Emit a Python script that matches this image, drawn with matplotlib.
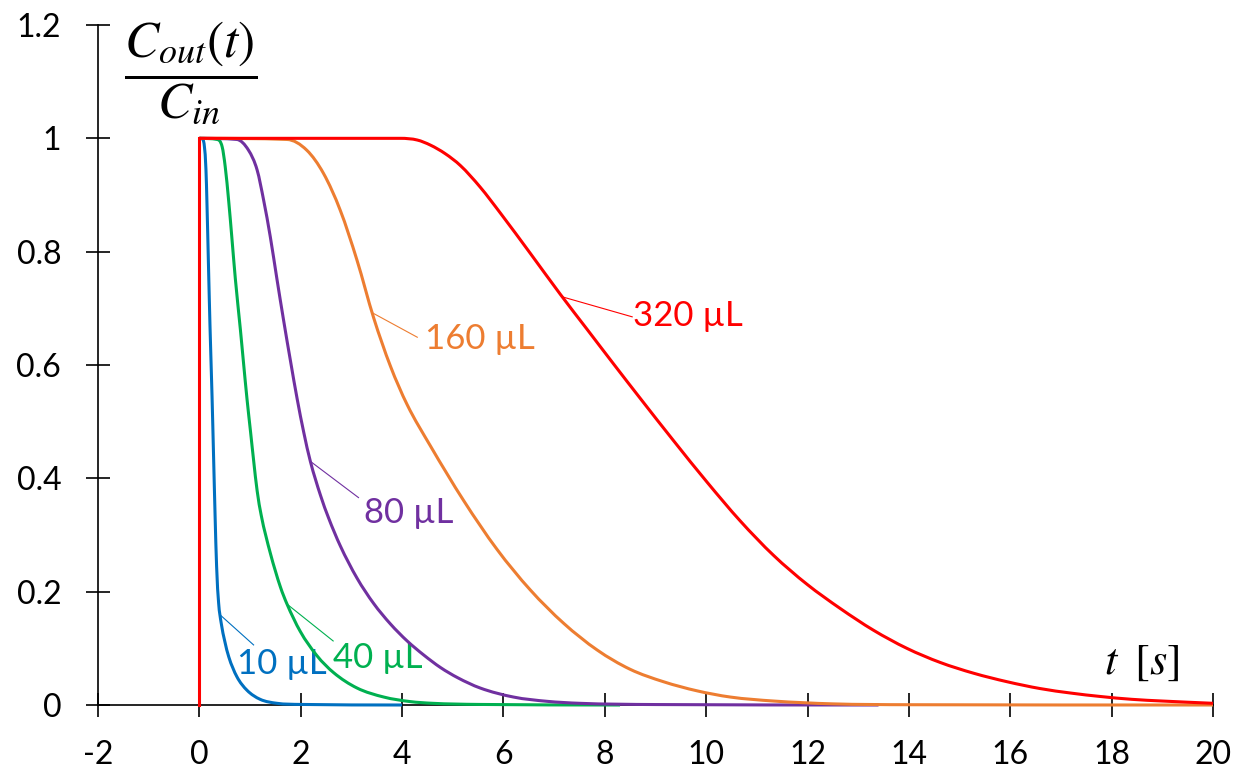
import numpy as np
import matplotlib
matplotlib.use("Agg")
import matplotlib.pyplot as plt
from matplotlib.path import Path
from matplotlib.patches import PathPatch

plt.rcParams['font.family'] = ['Lato', 'DejaVu Sans']
plt.rcParams['mathtext.fontset'] = 'stix'

# Outlet concentration (normalised) vs time for different volumes
t_10 = [0, 0.07, 0.10, 0.13, 0.15, 0.18, 0.21, 0.25, 0.28, 0.31, 0.34, 0.38,
        0.43, 0.50, 0.58, 0.74, 0.94, 1.20, 1.53, 2.0, 4.0]
c_10 = [1, 0.998, 0.985, 0.945, 0.885, 0.775, 0.668, 0.545, 0.440, 0.335, 0.245,
        0.180, 0.145, 0.113, 0.085, 0.050, 0.026, 0.010, 0.003, 0.001, 0]

t_40 = [0, 0.35, 0.45, 0.51, 0.58, 0.64, 0.71, 0.81, 0.87, 0.94, 1.01, 1.07,
        1.14, 1.22, 1.40, 1.60, 1.73, 1.99, 2.32, 2.65, 3.11, 3.64, 4.16, 4.6,
        5.5, 8.3]
c_40 = [1, 0.998, 0.985, 0.950, 0.888, 0.826, 0.752, 0.662, 0.605, 0.540, 0.482,
        0.432, 0.378, 0.335, 0.268, 0.208, 0.178, 0.130, 0.087, 0.057, 0.030,
        0.014, 0.006, 0.003, 0.001, 0]

t_80 = [0, 0.74, 0.97, 1.14, 1.27, 1.40, 1.53, 1.66, 1.80, 1.93, 2.06, 2.19,
        2.39, 2.55, 2.78, 3.11, 3.44, 3.77, 4.10, 4.43, 4.76, 5.1, 5.54, 6.20,
        6.86, 7.5, 9.0, 13.4]
c_80 = [1, 0.998, 0.979, 0.944, 0.890, 0.826, 0.752, 0.680, 0.606, 0.540, 0.481,
        0.430, 0.370, 0.330, 0.281, 0.224, 0.179, 0.143, 0.113, 0.088, 0.066,
        0.048, 0.030, 0.014, 0.0065, 0.003, 0.0008, 0]

t_160 = [0, 1.73, 2.12, 2.45, 2.78, 3.11, 3.44, 3.77, 4.10, 4.56, 5.22, 5.87,
         6.53, 7.19, 7.85, 8.50, 9.16, 9.82, 10.48, 11.33, 12.5, 14.0, 20.0]
c_160 = [1, 0.998, 0.979, 0.938, 0.873, 0.785, 0.683, 0.598, 0.530, 0.457, 0.360,
         0.275, 0.203, 0.144, 0.097, 0.063, 0.041, 0.025, 0.014, 0.007, 0.002,
         0.0005, 0]

t_320 = [0, 3.97, 4.3, 4.56, 4.85, 5.15, 5.54, 5.94, 6.53, 7.12, 7.65, 8.18,
         8.70, 9.36, 10.02, 10.67, 11.33, 11.99, 12.65, 13.30, 13.96, 14.62,
         15.28, 15.94, 16.59, 17.2, 17.78, 18.4, 19.0, 20.0]
c_320 = [1, 1, 0.997, 0.988, 0.973, 0.952, 0.914, 0.868, 0.797, 0.725, 0.663,
         0.601, 0.541, 0.466, 0.393, 0.325, 0.264, 0.213, 0.170, 0.132, 0.100,
         0.075, 0.056, 0.041, 0.029, 0.021, 0.015, 0.010, 0.007, 0.003]

labels = ['10 µL', '40 µL', '80 µL', '160 µL', '320 µL']
colors = ['#0070C0', '#00B050', '#7030A0', '#ED7D31', '#FF0000']
series_t = [t_10, t_40, t_80, t_160, t_320]
series_c = [c_10, c_40, c_80, c_160, c_320]

# leader line: x on curve, end of leader (x, y), text left/centre (x, y)
leader_x = [0.41, 1.73, 2.19, 3.41, 7.16]
leader_end = [(1.07, 0.106), (2.64, 0.113), (3.14, 0.366), (4.30, 0.649), (8.54, 0.685)]
text_pos = [(0.75, 0.072), (2.64, 0.083), (3.24, 0.339), (4.46, 0.646), (8.56, 0.687)]

xticks = np.arange(-2, 21, 2)
yticks = [0, 0.2, 0.4, 0.6, 0.8, 1, 1.2]
ytick_labels = ['0', '0.2', '0.4', '0.6', '0.8', '1', '1.2']


def smooth_path(x, y):
    """Monotone cubic (Fritsch-Carlson) curve through the points, as Bezier path."""
    x = np.asarray(x, float)
    y = np.asarray(y, float)
    h = np.diff(x)
    d = np.diff(y) / h
    m = np.empty_like(y)
    m[0], m[-1] = d[0], d[-1]
    for k in range(1, len(x) - 1):
        if d[k - 1] * d[k] <= 0:
            m[k] = 0.0
        else:
            m[k] = (d[k - 1] + d[k]) / 2
    for k in range(len(d)):
        if d[k] == 0:
            m[k] = m[k + 1] = 0.0
            continue
        a, b = m[k] / d[k], m[k + 1] / d[k]
        s = a * a + b * b
        if s > 9:
            tau = 3 / np.sqrt(s)
            m[k] = tau * a * d[k]
            m[k + 1] = tau * b * d[k]
    verts = [(x[0], y[0])]
    codes = [Path.MOVETO]
    for k in range(len(h)):
        verts += [(x[k] + h[k] / 3, y[k] + m[k] * h[k] / 3),
                  (x[k + 1] - h[k] / 3, y[k + 1] - m[k + 1] * h[k] / 3),
                  (x[k + 1], y[k + 1])]
        codes += [Path.CURVE4] * 3
    return Path(verts, codes)


fig = plt.figure(figsize=(12.4, 7.74), dpi=100)
ax = fig.add_axes([98 / 1240, 69 / 774, 1115 / 1240, 680 / 774])

for i, (t, c, col) in enumerate(zip(series_t, series_c, colors)):
    patch = PathPatch(smooth_path(t, c), facecolor='none', edgecolor=col,
                      lw=2.2, zorder=3 + i, clip_on=False, capstyle='butt',
                      joinstyle='round')
    ax.add_patch(patch)

# step at t = 0
ax.plot([0, 0], [0, 1], color=colors[-1], lw=2.2, zorder=8, clip_on=False,
        solid_capstyle='projecting')

for t, c, col, lab, lx, le, tp in zip(series_t, series_c, colors, labels,
                                       leader_x, leader_end, text_pos):
    ly = np.interp(lx, t, c)
    ax.plot([lx, le[0]], [ly, le[1]], color=col, lw=0.8, zorder=2.8)
    ax.text(tp[0], tp[1], lab, color=col, fontsize=25, ha='left', va='center')

ax.set_xlim(-2, 20)
ax.set_ylim(0, 1.2)
ax.set_xticks(xticks)
ax.set_xticklabels([str(v) for v in xticks])
ax.set_yticks(yticks)
ax.set_yticklabels(ytick_labels)

for side in ['top', 'right']:
    ax.spines[side].set_visible(False)
for side in ['left', 'bottom']:
    ax.spines[side].set_linewidth(1.2)
    ax.spines[side].set_color('black')
    ax.spines[side].set_zorder(2.5)

ax.tick_params(axis='both', direction='inout', length=17, width=1.2,
               labelsize=23, colors='black')
ax.tick_params(axis='x', pad=17)
ax.tick_params(axis='y', pad=18)

ax.text(-0.18, 1.115, r'$\dfrac{C_{out}(t)}{C_{in}}$', fontsize=37,
        ha='center', va='center', color='black')
ax.text(18.6, 0.075, r'$t\;\;[s]$', fontsize=32, ha='center', va='center',
        color='black')

fig.savefig('out.png', dpi=100)
